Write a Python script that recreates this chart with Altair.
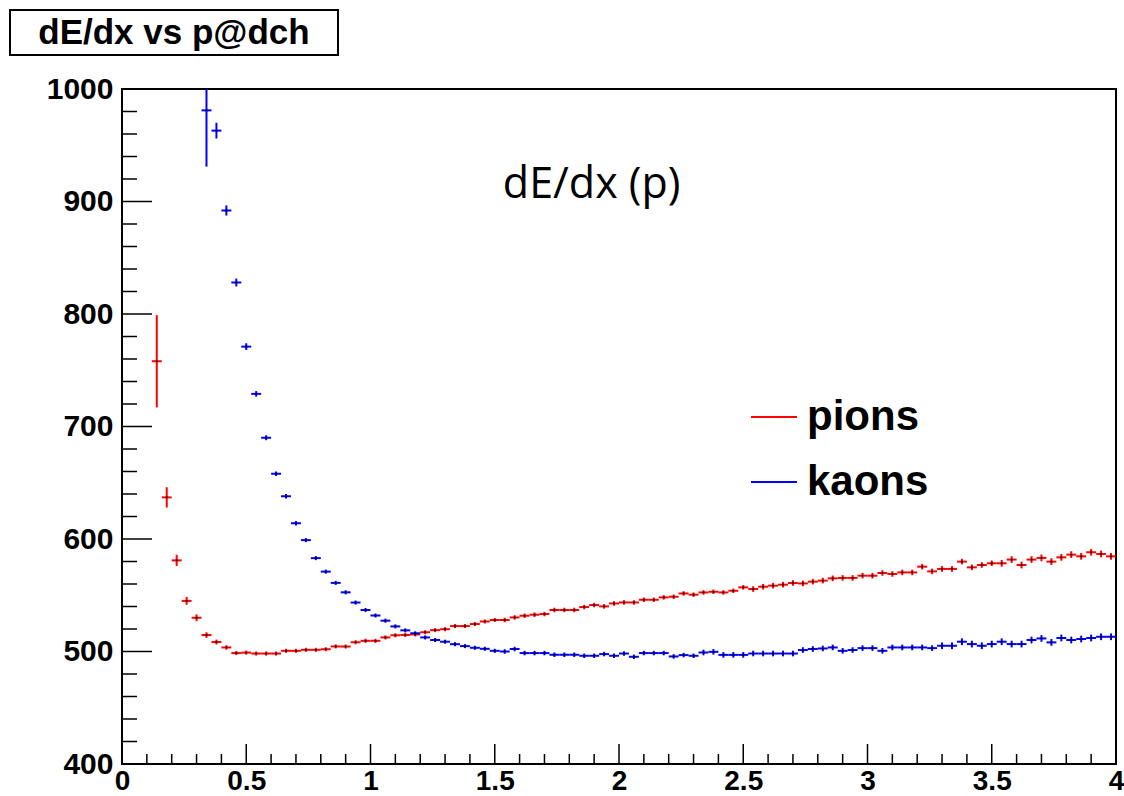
import altair as alt
import pandas as pd

# Histogram binning of momentum p (GeV/c): 100 bins of 0.04 over [0, 4]
BIN_WIDTH = 0.04
PION_FIRST_CENTER = 0.14
KAON_FIRST_CENTER = 0.34

# Mean dE/dx per momentum bin, and its error
pion_dedx = [
    758, 637, 581, 545, 530, 514.6, 508.4, 503.6, 498.6, 499.0,
    498.2, 498.2, 498.2, 500.6, 500.6, 501.5, 501.5, 502.0, 504.5, 504.4,
    508.2, 509.5, 509.5, 512.5, 514.4, 514.7, 515.2, 517.1, 519.0, 519.8,
    522.6, 522.6, 524.4, 526.7, 528.0, 528.0, 530.3, 531.8, 532.7, 533.3,
    536.9, 536.9, 536.9, 539.5, 541.3, 540.1, 542.7, 543.6, 543.6, 546.0,
    546.0, 548.1, 548.7, 551.6, 550.5, 552.5, 553.1, 552.5, 554.0, 557.0,
    555.5, 557.6, 558.5, 559.4, 560.9, 560.5, 562.1, 563.0, 565.0, 565.4,
    565.4, 567.4, 567.4, 569.8, 568.9, 570.3, 570.3, 575.4, 571.2, 573.4,
    573.4, 579.9, 574.8, 576.9, 578.4, 578.4, 581.7, 576.9, 581.7, 583.2,
    579.9, 583.7, 586.1, 584.6, 588.2, 586.7, 584.6,
]
pion_err = [
    41, 9, 5, 3.5, 3, 2.5, 2.2, 2, 1.8, 1.8,
    1.8, 1.8, 1.8, 1.8, 1.8, 1.8, 1.8, 1.8, 1.8, 1.8,
    1.8, 1.8, 1.8, 1.8, 1.8, 1.8, 1.8, 1.8, 1.8, 1.8,
    1.8, 1.8, 1.8, 1.8, 1.8, 2, 2, 2, 2, 2,
    2, 2, 2, 2, 2, 2, 2, 2, 2, 2,
    2, 2, 2, 2, 2, 2, 2, 2, 2, 2,
    2.5, 2.5, 2.5, 2.5, 2.5, 2.5, 2.5, 2.5, 2.5, 2.5,
    2.5, 2.5, 2.5, 2.5, 2.5, 2.5, 2.5, 2.5, 2.5, 2.5,
    2.5, 2.5, 2.5, 2.5, 2.5, 3, 3, 3, 3, 3,
    3, 3, 3, 3, 3, 3, 3,
]
kaon_dedx = [
    981, 963, 892, 828, 771, 729, 690, 658, 638, 614,
    599, 583, 571, 561, 552.6, 543.5, 536.9, 532.0, 527.4, 522.3,
    518.8, 516.2, 512.5, 510.2, 508.7, 506.5, 504.8, 503.3, 502.4, 500.6,
    500.0, 502.2, 498.6, 498.6, 498.6, 497.1, 497.1, 497.1, 496.2, 496.2,
    497.7, 496.2, 498.2, 495.3, 498.6, 498.6, 498.6, 495.6, 496.8, 496.2,
    499.1, 499.7, 497.0, 497.0, 497.0, 498.2, 498.2, 498.2, 498.2, 498.2,
    501.3, 502.2, 502.7, 503.6, 500.6, 501.3, 503.0, 503.0, 500.6, 503.6,
    503.6, 503.6, 503.6, 503.0, 505.1, 505.1, 508.7, 506.6, 505.1, 506.6,
    508.7, 506.6, 506.6, 510.2, 511.6, 508.1, 512.0, 510.2, 511.1, 512.0,
    513.1, 513.1,
]
kaon_err = [
    50, 7, 4.5, 3.5, 3, 2.5, 2.2, 2, 2, 2,
    1.8, 1.8, 1.8, 1.8, 1.8, 1.8, 1.8, 1.8, 1.8, 1.8,
    1.8, 1.8, 1.8, 1.8, 1.8, 1.8, 1.8, 1.8, 1.8, 1.8,
    2, 2, 2, 2, 2, 2, 2, 2, 2, 2,
    2, 2, 2, 2, 2, 2, 2, 2, 2, 2,
    2.5, 2.5, 2.5, 2.5, 2.5, 2.5, 2.5, 2.5, 2.5, 2.5,
    2.5, 2.5, 2.5, 2.5, 2.5, 2.5, 2.5, 2.5, 2.5, 2.5,
    2.5, 2.5, 2.5, 2.5, 3, 3, 3, 3, 3, 3,
    3, 3, 3, 3, 3, 3, 3, 3, 3, 3,
    3, 3,
]

SERIES = ["pions", "kaons"]
COLORS = ["#ff0000", "#0000ff"]

x_major = [0, 0.5, 1, 1.5, 2, 2.5, 3, 3.5, 4]
x_minor = [0.1, 0.2, 0.3, 0.4, 0.6, 0.7, 0.8, 0.9, 1.1, 1.2, 1.3, 1.4,
           1.6, 1.7, 1.8, 1.9, 2.1, 2.2, 2.3, 2.4, 2.6, 2.7, 2.8, 2.9,
           3.1, 3.2, 3.3, 3.4, 3.6, 3.7, 3.8, 3.9]
y_major = [400, 500, 600, 700, 800, 900, 1000]
y_minor = [420, 440, 460, 480, 520, 540, 560, 580, 620, 640, 660, 680,
           720, 740, 760, 780, 820, 840, 860, 880, 920, 940, 960, 980]

TITLE = "dE/dx vs p@dch"
ANNOTATION = "dE/dx (p)"

W, H = 994, 675
BOLD_FONT = "Liberation Sans"


def histogram_rows(name, first_center, values, errors):
    rows = []
    for i, (v, e) in enumerate(zip(values, errors)):
        c = round(first_center + i * BIN_WIDTH, 4)
        rows.append({
            "series": name, "p": c,
            "p_lo": c - BIN_WIDTH / 2, "p_hi": c + BIN_WIDTH / 2,
            "dedx": v, "lo": v - e, "hi": v + e,
        })
    return rows


df = pd.DataFrame(
    histogram_rows("pions", PION_FIRST_CENTER, pion_dedx, pion_err)
    + histogram_rows("kaons", KAON_FIRST_CENTER, kaon_dedx, kaon_err)
)

x_scale = alt.Scale(domain=[0, 4], nice=False, zero=False)
y_scale = alt.Scale(domain=[400, 1000], nice=False, zero=False)

x_axis = alt.Axis(
    values=x_major, format="~g", tickSize=0, domain=False, grid=False,
    labelFont=BOLD_FONT, labelFontWeight="bold", labelFontSize=28,
    labelColor="black", labelPadding=3, labelFlush=False,
    labelOverlap=False, labelBound=False, title=None,
)
y_axis = alt.Axis(
    values=y_major, format="d", tickSize=0, domain=False, grid=False,
    labelFont=BOLD_FONT, labelFontWeight="bold", labelFontSize=30,
    labelColor="black", labelPadding=9, labelFlush=False,
    labelOverlap=False, labelBound=False, title=None,
)


def xq(field):
    return alt.X(f"{field}:Q", scale=x_scale, axis=x_axis)


def yq(field):
    return alt.Y(f"{field}:Q", scale=y_scale, axis=y_axis)


legend = alt.Legend(
    title=None, orient="none", legendX=628, legendY=304, padding=0,
    symbolType="stroke", symbolSize=2116, symbolStrokeWidth=2,
    labelFont=BOLD_FONT, labelFontWeight="bold", labelFontSize=42,
    labelColor="black", labelOffset=9, rowPadding=20, labelLimit=400,
)
color = alt.Color("series:N", scale=alt.Scale(domain=SERIES, range=COLORS),
                  legend=legend)

base = alt.Chart(df)

# ROOT-style histogram error crosses: bin-width bar plus vertical error
hbar = base.mark_rule(strokeWidth=2, clip=True).encode(
    x=xq("p_lo"), x2="p_hi", y=yq("dedx"), color=color)
vbar = base.mark_rule(strokeWidth=2, clip=True).encode(
    x=xq("p"), y=yq("lo"), y2="hi", color=color)
dots = base.mark_square(size=3, color="black", opacity=1, clip=True).encode(
    x=xq("p"), y=yq("dedx"))

# Inward-pointing ticks
xt_major = alt.Chart(pd.DataFrame({"p": x_major})).mark_rule(
    color="black", strokeWidth=1.5).encode(
    x=xq("p"), y=alt.value(H), y2=alt.value(H - 20))
xt_minor = alt.Chart(pd.DataFrame({"p": x_minor})).mark_rule(
    color="black", strokeWidth=1.5).encode(
    x=xq("p"), y=alt.value(H), y2=alt.value(H - 10))
yt_major = alt.Chart(pd.DataFrame({"dedx": y_major})).mark_rule(
    color="black", strokeWidth=1.5).encode(
    y=yq("dedx"), x=alt.value(0), x2=alt.value(30))
yt_minor = alt.Chart(pd.DataFrame({"dedx": y_minor})).mark_rule(
    color="black", strokeWidth=1.5).encode(
    y=yq("dedx"), x=alt.value(0), x2=alt.value(15))

annotation = alt.Chart(pd.DataFrame({"p": [1.89], "dedx": [915], "t": [ANNOTATION]})).mark_text(
    font="Open Sans", fontSize=43, color="black", align="center", baseline="middle"
).encode(x=xq("p"), y=yq("dedx"), text="t:N")

title_box = alt.Chart(pd.DataFrame({"t": [TITLE]})).mark_rect(
    fill="white", stroke="black", strokeWidth=2).encode(
    x=alt.value(-112), x2=alt.value(216), y=alt.value(-79), y2=alt.value(-34))
title_text = alt.Chart(pd.DataFrame({"t": [TITLE]})).mark_text(
    font=BOLD_FONT, fontWeight="bold", fontSize=35, color="black",
    align="center", baseline="middle").encode(
    x=alt.value(52), y=alt.value(-56), text="t:N")

chart = alt.layer(
    xt_major, xt_minor, yt_major, yt_minor, hbar, vbar, dots,
    annotation, title_box, title_text,
).properties(
    width=W, height=H,
    autosize=alt.AutoSizeParams(type="none"),
    padding={"left": 122, "top": 89, "right": 8, "bottom": 32},
    background="white",
).configure_view(stroke="black", strokeWidth=2)

chart.save("out.html", embed_options={"renderer": "svg", "actions": False})
